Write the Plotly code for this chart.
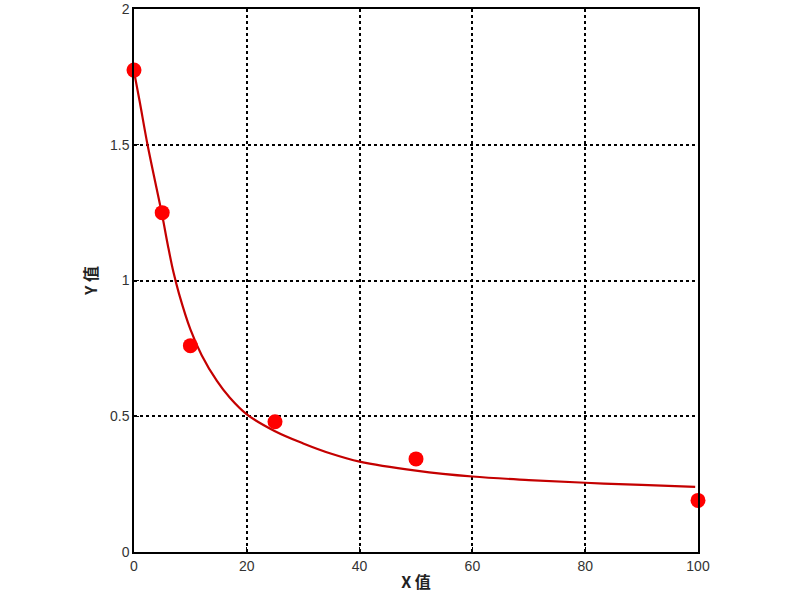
import plotly.graph_objects as go

# measured points
x_points = [0, 5, 10, 25, 50, 100]
y_points = [1.775, 1.25, 0.76, 0.48, 0.343, 0.19]

# fitted curve
x_curve = [0, 1, 2.4, 4, 5, 6, 7, 8, 10, 12, 14.7, 17, 20, 25, 30, 35, 40, 50, 60, 70, 80, 90, 99.5]
y_curve = [1.77, 1.66, 1.50, 1.34, 1.24, 1.13, 1.03, 0.95, 0.82, 0.725, 0.63, 0.568, 0.507, 0.445, 0.40, 0.362, 0.333, 0.30, 0.278, 0.265, 0.255, 0.247, 0.24]

x_ticks = [0, 20, 40, 60, 80, 100]
y_ticks = [0, 0.5, 1, 1.5, 2]
y_tick_labels = ["0", "0.5", "1", "1.5", "2"]

fig = go.Figure()
fig.add_trace(go.Scatter(x=x_curve, y=y_curve, mode="lines",
                         line=dict(color="#c40000", width=2.2, shape="spline", smoothing=1.0),
                         hoverinfo="skip", cliponaxis=False))
fig.add_trace(go.Scatter(x=x_points, y=y_points, mode="markers",
                         marker=dict(color="#ff0000", size=15, line=dict(width=0)),
                         cliponaxis=False))

axis_common = dict(showline=True, linecolor="black", linewidth=1.5, mirror=True,
                   showgrid=True, gridcolor="black", gridwidth=1.5, griddash="dot",
                   ticks="inside", ticklen=5, tickcolor="black", zeroline=False,
                   automargin=False,
                   tickfont=dict(family="Liberation Sans, Arial", size=14, color="#333333"))

fig.update_xaxes(range=[0, 100], tickvals=x_ticks, ticktext=[str(v) for v in x_ticks],
                 title=dict(text="<b>X 值</b>", font=dict(family="Noto Sans CJK SC", size=16, color="#222222"), standoff=4),
                 **axis_common)
fig.update_yaxes(range=[0, 2], tickvals=y_ticks, ticktext=y_tick_labels,
                 title=dict(text="<b>Y 值</b>", font=dict(family="Noto Sans CJK SC", size=16, color="#222222"), standoff=8),
                 **axis_common)

fig.update_layout(width=800, height=600, showlegend=False,
                  plot_bgcolor="white", paper_bgcolor="white",
                  margin=dict(l=134, r=102, t=9, b=48, autoexpand=False))

fig.write_html("out.html", config={"displayModeBar": False},
               post_script="document.body.style.margin='0';")
